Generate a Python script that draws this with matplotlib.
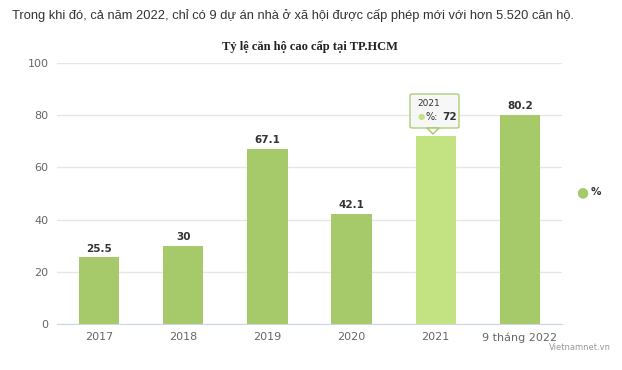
import matplotlib
matplotlib.use("Agg")
import matplotlib.pyplot as plt
from matplotlib.patches import FancyBboxPatch, Polygon

categories = ["2017", "2018", "2019", "2020", "2021", "9 tháng 2022"]
values = [25.5, 30, 67.1, 42.1, 72, 80.2]
labels = ["25.5", "30", "67.1", "42.1", "72", "80.2"]
yticks = [0, 20, 40, 60, 80, 100]
highlight = 4

W, H = 622, 370
fig = plt.figure(figsize=(W / 100, H / 100), dpi=100)
fig.patch.set_facecolor("white")
ax = fig.add_axes([57 / W, 1 - 324 / H, (562 - 57) / W, (324 - 63) / H])

base = "#a6c96a"
hl = "#c3e383"
colors = [hl if i == highlight else base for i in range(len(values))]
x = list(range(len(values)))
ax.bar(x, values, width=0.48, color=colors, zorder=3)
ax.set_xlim(-0.5, len(values) - 0.5)
ax.set_ylim(0, 100)
ax.set_yticks(yticks)
ax.set_yticklabels([str(t) for t in yticks], fontsize=8, color="#666666")
ax.set_xticks(x)
ax.set_xticklabels(categories, fontsize=8, color="#666666")
ax.tick_params(axis="both", length=0, pad=6)
ax.grid(axis="y", color="#e6e6e6", linewidth=1, zorder=0)
for s in ["top", "right", "left"]:
    ax.spines[s].set_visible(False)
ax.spines["bottom"].set_color("#ccd6eb")
ax.spines["bottom"].set_zorder(4)

for i, (v, lab) in enumerate(zip(values, labels)):
    if i == highlight:
        ax.text(i, v + 1.5, lab, ha="center", va="bottom", fontsize=7.5,
                color="#f0f0f0", zorder=4)
    else:
        ax.text(i, v + 1.5, lab, ha="center", va="bottom", fontsize=7.5,
                fontweight="bold", color="#333333", zorder=4)

# tooltip for highlighted bar
tx0, ty0, tw, th = 410, 94, 49, 34
box = FancyBboxPatch((tx0 / W, 1 - (ty0 + th) / H), tw / W, th / H,
                     boxstyle="round,pad=0,rounding_size=0.004",
                     transform=fig.transFigure, facecolor="#f7f7f7",
                     edgecolor="#a6c96a", linewidth=1, alpha=0.9, zorder=10)
fig.patches.append(box)
cx = 433
ptr = Polygon([((cx - 6) / W, 1 - (ty0 + th) / H), ((cx + 6) / W, 1 - (ty0 + th) / H),
               (cx / W, 1 - (ty0 + th + 6) / H)], closed=True, transform=fig.transFigure,
              facecolor="#f7f7f7", edgecolor="#a6c96a", linewidth=1, zorder=10)
fig.patches.append(ptr)
fig.text(417 / W, 1 - 104 / H, categories[highlight], fontsize=6.5, color="#333333",
         va="center", ha="left", zorder=11)
fig.text(421 / W, 1 - 117 / H, "●", fontsize=6, color=hl, va="center", ha="center", zorder=11)
fig.text(426 / W, 1 - 117 / H, "%:", fontsize=7, color="#333333", va="center", ha="left", zorder=11)
fig.text(442 / W, 1 - 117 / H, labels[highlight], fontsize=7.5, fontweight="bold",
         color="#333333", va="center", ha="left", zorder=11)

# titles
fig.text(12 / W, 1 - 15 / H, "Trong khi đó, cả năm 2022, chỉ có 9 dự án nhà ở xã hội được cấp phép mới với hơn 5.520 căn hộ.",
         fontsize=9.3, color="#333333", va="center", ha="left", family="Liberation Sans")
fig.text(310 / W, 1 - 47 / H, "Tỷ lệ căn hộ cao cấp tại TP.HCM", fontsize=9,
         fontweight="bold", color="#222222", va="center", ha="center", family="Liberation Serif")

# legend
fig.text(582 / W, 1 - 192 / H, "●", fontsize=10, color=base, va="center", ha="center")
fig.text(591 / W, 1 - 192 / H, "%", fontsize=7.5, fontweight="bold", color="#333333",
         va="center", ha="left")

# credit
fig.text(611 / W, 1 - 348 / H, "Vietnamnet.vn", fontsize=6, color="#999999",
         va="center", ha="right")

fig.savefig("out.png", dpi=100, facecolor="white")
